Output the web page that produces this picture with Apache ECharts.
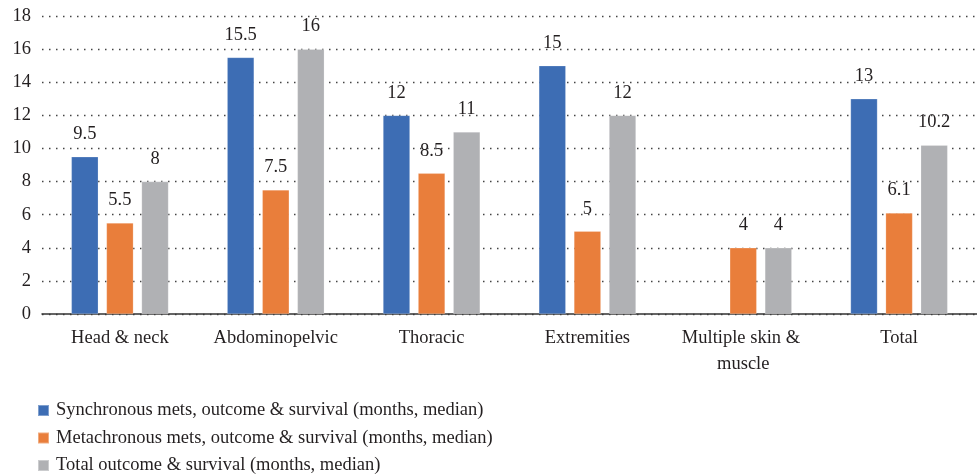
<!DOCTYPE html>
<html>
<head>
<meta charset="utf-8">
<script src="https://cdn.jsdelivr.net/npm/echarts@6/dist/echarts.min.js"></script>
<style>
  html, body { margin: 0; padding: 0; background: #fff; }
  #chart { width: 977px; height: 476px; }
</style>
</head>
<body>
<div id="chart"></div>
<script>
// Median outcome & survival (months) by metastasis site
const categories = ['Head & neck', 'Abdominopelvic', 'Thoracic', 'Extremities', 'Multiple skin & muscle', 'Total'];
const synchronous = [9.5, 15.5, 12, 15, null, 13];
const metachronous = [5.5, 7.5, 8.5, 5, 4, 6.1];
const totalOutcome = [8, 16, 11, 12, 4, 10.2];
const seriesNames = [
  'Synchronous mets, outcome & survival (months, median)',
  'Metachronous mets, outcome & survival (months, median)',
  'Total outcome & survival (months, median)'
];
const colors = ['#3d6db4', '#e97e3b', '#b0b1b4'];

const FONT = '"Liberation Serif", "DejaVu Serif", serif';
const TEXT = '#231f20';
const FS = 18.5;

function barSeries(name, data, color) {
  return {
    name: name,
    type: 'bar',
    data: data,
    barWidth: 27,
    barGap: '30%',
    itemStyle: { color: color, borderColor: 'rgba(255,255,255,0.35)', borderWidth: 0.6 },
    label: {
      show: true,
      position: 'top',
      distance: 13,
      fontFamily: FONT,
      fontSize: FS,
      color: TEXT
    }
  };
}

const chart = echarts.init(document.getElementById('chart'), null, { renderer: 'canvas' });
chart.setOption({
  animation: false,
  color: colors,
  textStyle: { fontFamily: FONT, color: TEXT },
  grid: { left: 42, top: 16, width: 941, height: 298, containLabel: false },
  legend: {
    orient: 'vertical',
    left: 37,
    top: 401,
    padding: 0,
    itemWidth: 11,
    itemHeight: 11,
    itemGap: 8.5,
    icon: 'rect',
    textStyle: { fontFamily: FONT, fontSize: FS, color: TEXT, padding: [0, 0, 0, 2] },
    data: seriesNames
  },
  xAxis: {
    type: 'category',
    data: categories,
    axisLine: { lineStyle: { color: '#333', width: 1.5 } },
    axisTick: { show: false },
    axisLabel: {
      fontFamily: FONT,
      fontSize: FS,
      color: TEXT,
      margin: 11,
      interval: 0,
      width: 150,
      overflow: 'break',
      lineHeight: 26
    }
  },
  yAxis: {
    type: 'value',
    min: 0,
    max: 18,
    interval: 2,
    axisLine: { show: false },
    axisTick: { show: false },
    axisLabel: { fontFamily: FONT, fontSize: FS, color: TEXT, margin: 11 },
    splitLine: { lineStyle: { type: [1.5, 5.5], color: '#444', width: 1.3 } }
  },
  series: [
    barSeries(seriesNames[0], synchronous, colors[0]),
    barSeries(seriesNames[1], metachronous, colors[1]),
    barSeries(seriesNames[2], totalOutcome, colors[2])
  ]
});
</script>
</body>
</html>
